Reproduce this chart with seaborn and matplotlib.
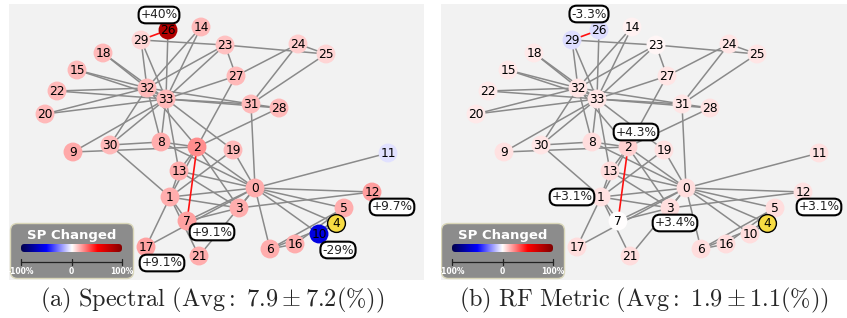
import numpy as np
import pandas as pd
import matplotlib
matplotlib.use("Agg")
import matplotlib.pyplot as plt
import seaborn as sns
from matplotlib.collections import LineCollection
from matplotlib.patches import FancyBboxPatch

sns.set_style("white")
plt.rcParams["font.family"] = ["DejaVu Sans"]
plt.rcParams["mathtext.fontset"] = "cm"

# karate club graph, node positions (pixel units)
node_x = [255, 170, 197, 239, 336, 344, 270, 187, 161, 73, 319, 388, 372, 179, 201, 77, 295,
          146, 103, 233, 45, 199, 57, 225, 298, 326, 168, 236, 279, 141, 110, 251, 147, 166]
node_y = [188, 197, 147, 208, 223, 208, 249, 221, 142, 152, 234, 153, 192, 171, 27, 70, 244,
          247, 53, 150, 114, 256, 91, 45, 44, 54, 30, 76, 108, 40, 145, 104, 88, 99]

edges = [(0, 1), (0, 2), (0, 3), (0, 4), (0, 5), (0, 6), (0, 7), (0, 8), (0, 10), (0, 11),
         (0, 12), (0, 13), (0, 17), (0, 19), (0, 21), (0, 31), (1, 2), (1, 3), (1, 7), (1, 13),
         (1, 17), (1, 19), (1, 21), (1, 30), (2, 3), (2, 7), (2, 8), (2, 9), (2, 13), (2, 27),
         (2, 28), (2, 32), (3, 7), (3, 12), (3, 13), (4, 6), (4, 10), (5, 6), (5, 10), (5, 16),
         (6, 16), (8, 30), (8, 32), (8, 33), (9, 33), (13, 33), (14, 32), (14, 33), (15, 32),
         (15, 33), (18, 32), (18, 33), (19, 33), (20, 32), (20, 33), (22, 32), (22, 33),
         (23, 25), (23, 27), (23, 29), (23, 32), (23, 33), (24, 25), (24, 27), (24, 31),
         (25, 31), (26, 29), (26, 33), (27, 33), (28, 31), (28, 33), (29, 32), (29, 33),
         (30, 32), (30, 33), (31, 32), (31, 33), (32, 33)]
changed_edges = [(26, 29), (2, 7)]
source_node = 4

# shortest-path change per node (%), source node has none
sp_spectral = [8, 8, 11, 8, np.nan, 8, 8, 9.1, 8, 8.5, -29, -3, 9.7, 8, 7, 7, 8,
               9.1, 7, 7, 7, 8, 7, 6, 5, 4, 40, 7, 7, 4, 7, 7, 7, 7]
sp_rf = [3.5, 3.1, 4.3, 3.4, np.nan, 3.5, 3.5, 0, 3.5, 3, 3.5, 3, 3.1, 3.5, 1.5, 2, 3.5,
         3.5, 2, 3, 2, 3.5, 2, 0.8, 2.5, 2.5, -3.3, 2.5, 3, -3.3, 2.5, 2.5, 2.5, 2.5]

labels_spectral = {26: "+40%", 12: "+9.7%", 7: "+9.1%", 17: "+9.1%", 10: "-29%"}
labels_rf = {26: "-3.3%", 2: "+4.3%", 1: "+3.1%", 3: "+3.4%", 12: "+3.1%"}
label_offsets_spectral = {26: (-9, -15), 12: (20, 15), 7: (25, 11), 17: (16, 16), 10: (19, 16)}
label_offsets_rf = {26: (-10, -16), 2: (8, -15), 1: (-29, 0), 3: (5, 15), 12: (16, 15)}

captions = [r"$\mathrm{(a)\ Spectral\ (Avg{:}\ 7.9 \pm 7.2(\%))}$",
            r"$\mathrm{(b)\ RF\ Metric\ (Avg{:}\ 1.9 \pm 1.1(\%))}$"]

W, H = 847, 318
fig = plt.figure(figsize=(W / 100, H / 100), dpi=100)
ax_a = fig.add_axes([9 / W, (H - 280) / H, 415 / W, 276 / H])
ax_b = fig.add_axes([441 / W, (H - 280) / H, 406 / W, 276 / H])


def draw_panel(ax, values, labels, offsets, xlim):
    ax.set_facecolor("#f2f2f2")
    ax.set_xlim(*xlim)
    ax.set_ylim(280, 4)
    for s in ax.spines.values():
        s.set_visible(False)
    ax.set_xticks([])
    ax.set_yticks([])

    segs = [[(node_x[a], node_y[a]), (node_x[b], node_y[b])] for a, b in edges
            if (a, b) not in changed_edges]
    ax.add_collection(LineCollection(segs, colors="#8a8a8a", linewidths=1.1, zorder=1))
    red = [[(node_x[a], node_y[a]), (node_x[b], node_y[b])] for a, b in changed_edges]
    ax.add_collection(LineCollection(red, colors="#ff1010", linewidths=1.2, zorder=1.5))

    df = pd.DataFrame({"x": node_x, "y": node_y, "sp": values})
    sns.scatterplot(data=df.dropna(), x="x", y="y", hue="sp", palette="seismic",
                    hue_norm=(-50, 50), s=185, linewidth=0, legend=False, ax=ax, zorder=3)
    sns.scatterplot(x=[node_x[source_node]], y=[node_y[source_node]], color="#f7dc43",
                    edgecolor="black", linewidth=1.0, s=165, ax=ax, zorder=3)
    ax.set_xlabel("")
    ax.set_ylabel("")
    for i in range(len(node_x)):
        ax.text(node_x[i], node_y[i] + 0.5, str(i), ha="center", va="center",
                fontsize=8.8, color="black", zorder=4)

    for n, t in labels.items():
        dx, dy = offsets[n]
        ax.text(node_x[n] + dx, node_y[n] + dy, t, ha="center", va="center", fontsize=8.8,
                color="#222222", zorder=5,
                bbox=dict(boxstyle="round,pad=0.15,rounding_size=0.6",
                          fc="white", ec="black", lw=1.5))

    # legend box with colorbar
    box = FancyBboxPatch((12, 225), 120, 52, boxstyle="round,pad=1.5,rounding_size=7",
                         fc="#8c8c8c", ec="#d9d6b8", lw=1.0, zorder=6)
    ax.add_patch(box)
    ax.text(72, 235, "SP Changed", ha="center", va="center", color="white",
            fontsize=9.5, fontweight="bold", zorder=7)
    grad = np.linspace(-1, 1, 256)[None, :]
    im = ax.imshow(grad, cmap="seismic", aspect="auto", extent=(21, 122, 252, 244), zorder=7)
    clip = FancyBboxPatch((21, 244), 101, 8, boxstyle="round,pad=0,rounding_size=3.5",
                          transform=ax.transData, fc="none", ec="none")
    ax.add_patch(clip)
    im.set_clip_path(clip)
    ax.plot([21, 122], [262, 262], color="#222222", lw=0.9, zorder=7)
    for tx, tl in zip([21, 71.5, 122], ["-100%", "0", "100%"]):
        ax.plot([tx, tx], [259, 265], color="#222222", lw=0.9, zorder=7)
        ax.text(tx, 272, tl, ha="center", va="center", color="white", fontsize=5.5,
                fontweight="bold", zorder=7)


draw_panel(ax_a, sp_spectral, labels_spectral, label_offsets_spectral, (9, 424))
draw_panel(ax_b, sp_rf, labels_rf, label_offsets_rf, (10, 416))

fig.text(212 / W, 1 - 300 / H, captions[0], ha="center", va="center", fontsize=17.5)
fig.text(644 / W, 1 - 300 / H, captions[1], ha="center", va="center", fontsize=17.5)

fig.savefig("out.png", dpi=100)
